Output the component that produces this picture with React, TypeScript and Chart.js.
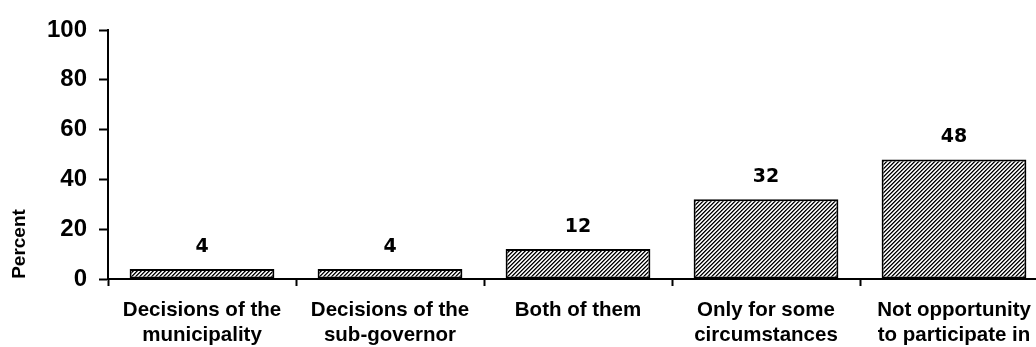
import React, { useEffect, useRef } from "react";
import { Chart, registerables } from "chart.js";

Chart.register(...registerables);

const categories: string[][] = [
  ["Decisions of the", "municipality"],
  ["Decisions of the", "sub-governor"],
  ["Both of them"],
  ["Only for some", "circumstances"],
  ["Not opportunity", "to participate in"],
];
const percentValues: number[] = [4, 4, 12, 32, 48];
const yTicks: number[] = [0, 20, 40, 60, 80, 100];
const yAxisTitle = "Percent";

const CANVAS_W = 1060;
const CANVAS_H = 400;

function makePattern(): CanvasPattern | string {
  const tile = document.createElement("canvas");
  tile.width = 4;
  tile.height = 4;
  const c = tile.getContext("2d");
  if (!c) return "#888";
  c.fillStyle = "#ffffff";
  c.fillRect(0, 0, 4, 4);
  for (let r = 0; r < 4; r++) {
    const x = (3 - r + 4) % 4;
    c.fillStyle = "#000000";
    c.fillRect(x, r, 1, 1);
    c.fillStyle = "#5a5a5a";
    c.fillRect((x + 1) % 4, r, 1, 1);
    c.fillStyle = "#d0d0d0";
    c.fillRect((x + 3) % 4, r, 1, 1);
  }
  const p = c.createPattern(tile, "repeat");
  return p || "#888";
}

const valueLabels = {
  id: "valueLabels",
  afterDatasetsDraw(chart: any) {
    const ctx = chart.ctx;
    const meta = chart.getDatasetMeta(0);
    ctx.save();
    ctx.font = "bold 19px 'DejaVu Sans'";
    ctx.fillStyle = "#000";
    ctx.textAlign = "center";
    ctx.textBaseline = "alphabetic";
    meta.data.forEach((el: any, i: number) => {
      ctx.fillText(String(percentValues[i]), el.x, el.y - 17);
    });
    ctx.restore();
  },
};

const yTitle = {
  id: "yTitle",
  afterDraw(chart: any) {
    const ctx = chart.ctx;
    ctx.save();
    ctx.translate(20, 244);
    ctx.rotate(-Math.PI / 2);
    ctx.font = "bold 19px 'Liberation Sans', Arial, sans-serif";
    ctx.fillStyle = "#000";
    ctx.textAlign = "center";
    ctx.textBaseline = "middle";
    ctx.fillText(yAxisTitle, 0, 0);
    ctx.restore();
  },
};

export default function App() {
  const ref = useRef<HTMLCanvasElement | null>(null);

  useEffect(() => {
    if (!ref.current) return;
    const chart = new Chart(ref.current, {
      type: "bar",
      data: {
        labels: categories,
        datasets: [
          {
            data: percentValues,
            backgroundColor: makePattern() as any,
            borderColor: "#000",
            borderWidth: 2,
            borderSkipped: false,
            categoryPercentage: 1,
            barPercentage: 0.77,
          },
        ],
      },
      options: {
        responsive: false,
        animation: false,
        devicePixelRatio: 1,
        layout: { padding: { top: 30, right: CANVAS_W - 1048, left: 0, bottom: 0 } },
        plugins: {
          legend: { display: false },
          tooltip: { enabled: false },
          title: { display: false },
        },
        scales: {
          x: {
            offset: true,
            grid: {
              display: true,
              offset: true,
              drawOnChartArea: false,
              drawTicks: true,
              tickLength: 7,
              tickWidth: 2,
              color: "#000",
            },
            border: { display: true, color: "#000", width: 2 },
            ticks: {
              color: "#000",
              padding: 12,
              maxRotation: 0,
              autoSkip: false,
              font: { family: "'Liberation Sans', Arial, sans-serif", size: 20.5, weight: "bold", lineHeight: 1.22 },
            },
            afterFit(scale: any) {
              scale.height = CANVAS_H - 279;
            },
          },
          y: {
            min: 0,
            max: 100,
            afterBuildTicks(scale: any) {
              scale.ticks = yTicks.map((v) => ({ value: v }));
            },
            grid: {
              display: true,
              drawOnChartArea: false,
              drawTicks: true,
              tickLength: 9,
              tickWidth: 2,
              color: "#000",
            },
            border: { display: true, color: "#000", width: 2 },
            ticks: {
              color: "#000",
              padding: 12,
              font: { family: "'Liberation Sans', Arial, sans-serif", size: 24, weight: "bold" },
            },
            afterFit(scale: any) {
              scale.width = 108;
            },
          },
        },
      },
      plugins: [valueLabels, yTitle],
    });
    return () => chart.destroy();
  }, []);

  return (
    <div
      style={{
        position: "fixed",
        left: 0,
        top: 0,
        width: 1036,
        height: 347,
        overflow: "hidden",
        background: "#fff",
      }}
    >
      <canvas ref={ref} width={CANVAS_W} height={CANVAS_H} style={{ display: "block", width: CANVAS_W, height: CANVAS_H }} />
    </div>
  );
}
